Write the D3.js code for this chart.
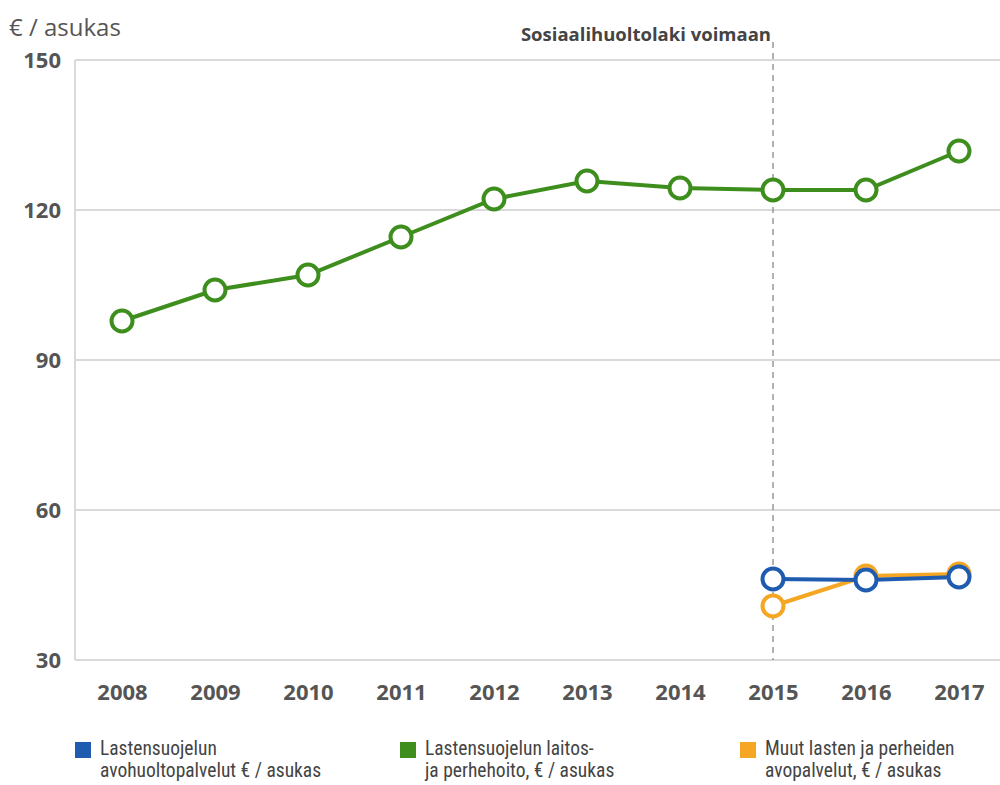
<!DOCTYPE html>
<html>
<head>
<meta charset="utf-8">
<script src="https://cdn.jsdelivr.net/npm/d3@7"></script>
<style>
  body { margin: 0; background: #fff; }
  svg { display: block; }
</style>
</head>
<body>
<svg id="chartSVG" width="1000" height="785"></svg>
<script>
/**
 * Chart data
 */
const years = [2008, 2009, 2010, 2011, 2012, 2013, 2014, 2015, 2016, 2017];
const yTicks = [30, 60, 90, 120, 150];
const laitosValues = [97.8, 104, 107, 114.6, 122.2, 125.8, 124.4, 124, 124, 131.8];
const avohuoltoValues = [null, null, null, null, null, null, null, 46.2, 46, 46.6];
const muutValues = [null, null, null, null, null, null, null, 40.8, 46.8, 47.2];
const legendLabels = [
  ["Lastensuojelun", "avohuoltopalvelut € / asukas"],
  ["Lastensuojelun laitos-", "ja perhehoito, € / asukas"],
  ["Muut lasten ja perheiden", "avopalvelut, € / asukas"]
];
const lawYear = 2015;
const lawLabel = "Sosiaalihuoltolaki voimaan";

/**
 * Layout and colours
 */
const margin = { top: 60, right: 0, bottom: 125, left: 75 },
  width = 1000 - margin.left - margin.right,
  height = 785 - margin.top - margin.bottom;
const blue = "#1f5cb0", green = "#3e8e1e", orange = "#f5a623";
const textColor = "#555";

const svg = d3.select("#chartSVG");
const g = svg.append("g").attr("transform", `translate(${margin.left},${margin.top})`);

// scales
const x = d3.scalePoint().domain(years).range([47, 884]);
const y = d3.scaleLinear().domain([30, 150]).range([height, 0]);

// gridlines
g.selectAll(".grid")
  .data(yTicks)
  .join("line")
  .attr("x1", 0).attr("x2", width)
  .attr("y1", d => y(d)).attr("y2", d => y(d))
  .attr("stroke", "#d9d9d9").attr("stroke-width", 2);

g.append("line")
  .attr("x1", 0).attr("x2", 0)
  .attr("y1", 0).attr("y2", height)
  .attr("stroke", "#d9d9d9").attr("stroke-width", 2);

// y axis labels
const yAxis = d3.axisLeft(y).tickValues(yTicks).tickSize(0).tickPadding(14);
g.append("g").call(yAxis)
  .call(a => a.select(".domain").remove())
  .selectAll("text")
  .attr("font-family", "'Open Sans', sans-serif")
  .attr("font-weight", "bold")
  .attr("font-size", 22)
  .attr("fill", textColor);

// x axis labels
const xAxis = d3.axisBottom(x).tickSize(0).tickPadding(24);
g.append("g").attr("transform", `translate(0,${height})`).call(xAxis)
  .call(a => a.select(".domain").remove())
  .selectAll("text")
  .attr("font-family", "'Open Sans', sans-serif")
  .attr("font-weight", "bold")
  .attr("font-size", 22)
  .attr("fill", textColor);

// y axis title
svg.append("text")
  .attr("x", 9).attr("y", 36)
  .attr("font-family", "'Open Sans', sans-serif")
  .attr("font-size", 24)
  .attr("fill", textColor)
  .text("€ / asukas");

// law annotation
g.append("line")
  .attr("x1", x(lawYear)).attr("x2", x(lawYear))
  .attr("y1", -18).attr("y2", height)
  .attr("stroke", "#999").attr("stroke-width", 1.5)
  .attr("stroke-dasharray", "6,5");
g.append("text")
  .attr("x", x(lawYear) - 2).attr("y", -19)
  .attr("text-anchor", "end")
  .attr("font-family", "'Open Sans', sans-serif")
  .attr("font-weight", "bold")
  .attr("font-size", 18.5)
  .attr("fill", "#444")
  .text(lawLabel);

// series
const series = [
  { values: laitosValues, color: green },
  { values: muutValues, color: orange },
  { values: avohuoltoValues, color: blue }
];
const line = d3.line()
  .defined(d => d.v != null)
  .x(d => x(d.year))
  .y(d => y(d.v));

series.forEach(s => {
  const pts = years.map((year, i) => ({ year, v: s.values[i] }));
  g.append("path")
    .datum(pts)
    .attr("d", line)
    .attr("fill", "none")
    .attr("stroke", s.color)
    .attr("stroke-width", 4);
  g.append("g").selectAll("circle")
    .data(pts.filter(d => d.v != null))
    .join("circle")
    .attr("cx", d => x(d.year))
    .attr("cy", d => y(d.v))
    .attr("r", 10.5)
    .attr("fill", "#fff")
    .attr("stroke", s.color)
    .attr("stroke-width", 4);
});

// legend
const legendColors = [blue, green, orange];
const legendX = [75, 400, 740];
const legend = svg.append("g").attr("font-family", "'Liberation Sans Narrow', 'Roboto Condensed', sans-serif");
legendLabels.forEach((lines, i) => {
  legend.append("rect")
    .attr("x", legendX[i]).attr("y", 742)
    .attr("width", 16).attr("height", 16)
    .attr("fill", legendColors[i]);
  legend.append("text")
    .attr("x", legendX[i] + 25).attr("y", 755)
    .attr("font-size", 19.5)
    .attr("fill", "#444")
    .selectAll("tspan")
    .data(lines)
    .join("tspan")
    .attr("x", legendX[i] + 25)
    .attr("dy", (d, j) => j === 0 ? 0 : 22)
    .text(d => d);
});
</script>
</body>
</html>
